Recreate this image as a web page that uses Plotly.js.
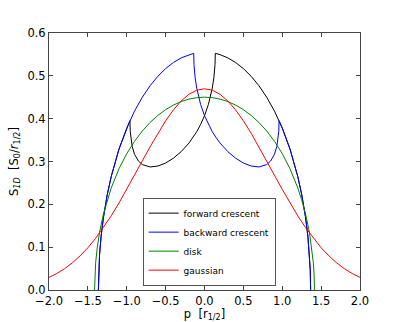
<!DOCTYPE html>
<html><head><meta charset="utf-8">
<script src="https://cdn.plot.ly/plotly-3.0.1.min.js"></script>
<style>html,body{margin:0;padding:0;background:#fff}#chart{width:399px;height:322px}</style>
</head><body><div id="chart"></div>
<script>
// forward crescent
const fwdX = [-1.3649, -1.36, -1.35, -1.33, -1.3, -1.25, -1.2, -1.1, -1.0, -0.959, -0.955, -0.95, -0.93, -0.9, -0.85, -0.8, -0.7, -0.6, -0.5, -0.4, -0.3, -0.2, -0.15, -0.1, -0.05, 0, 0.05, 0.08, 0.1, 0.12, 0.13, 0.135, 0.139, 0.2, 0.3, 0.4, 0.5, 0.6, 0.7, 0.8, 0.9, 1.0, 1.1, 1.2, 1.25, 1.3, 1.33, 1.35, 1.36, 1.3649];
const fwdY = [0, 0.0471, 0.0819, 0.1249, 0.1693, 0.2231, 0.2647, 0.3289, 0.3781, 0.3953, 0.3700, 0.3586, 0.3349, 0.3168, 0.3011, 0.2928, 0.2872, 0.2894, 0.2965, 0.3077, 0.3230, 0.3430, 0.3554, 0.3696, 0.3864, 0.4069, 0.4331, 0.4538, 0.4713, 0.4951, 0.5127, 0.5259, 0.5526, 0.5495, 0.5419, 0.5311, 0.5169, 0.4990, 0.4769, 0.4501, 0.4176, 0.3781, 0.3289, 0.2647, 0.2231, 0.1693, 0.1249, 0.0819, 0.0471, 0];
// backward crescent
const bwdX = [-1.3649, -1.36, -1.35, -1.33, -1.3, -1.25, -1.2, -1.1, -1.0, -0.9, -0.8, -0.7, -0.6, -0.5, -0.4, -0.3, -0.2, -0.139, -0.135, -0.13, -0.12, -0.1, -0.08, -0.05, 0, 0.05, 0.1, 0.15, 0.2, 0.3, 0.4, 0.5, 0.6, 0.7, 0.8, 0.85, 0.9, 0.93, 0.95, 0.955, 0.959, 1.0, 1.1, 1.2, 1.25, 1.3, 1.33, 1.35, 1.36, 1.3649];
const bwdY = [0, 0.0471, 0.0819, 0.1249, 0.1693, 0.2231, 0.2647, 0.3289, 0.3781, 0.4176, 0.4501, 0.4769, 0.4990, 0.5169, 0.5311, 0.5419, 0.5495, 0.5526, 0.5259, 0.5127, 0.4951, 0.4713, 0.4538, 0.4331, 0.4069, 0.3864, 0.3696, 0.3554, 0.3430, 0.3230, 0.3077, 0.2965, 0.2894, 0.2872, 0.2928, 0.3011, 0.3168, 0.3349, 0.3586, 0.3700, 0.3953, 0.3781, 0.3289, 0.2647, 0.2231, 0.1693, 0.1249, 0.0819, 0.0471, 0];
// disk
const diskX = [-1.4142, -1.41, -1.4, -1.38, -1.35, -1.3, -1.25, -1.2, -1.1, -1.0, -0.9, -0.8, -0.7, -0.6, -0.5, -0.4, -0.3, -0.2, -0.1, 0, 0.1, 0.2, 0.3, 0.4, 0.5, 0.6, 0.7, 0.8, 0.9, 1.0, 1.1, 1.2, 1.25, 1.3, 1.35, 1.38, 1.4, 1.41, 1.4142];
const diskY = [0, 0.0347, 0.0637, 0.0984, 0.1341, 0.1772, 0.2105, 0.2382, 0.2829, 0.3183, 0.3472, 0.3712, 0.3911, 0.4076, 0.4211, 0.4318, 0.4399, 0.4456, 0.4490, 0.4502, 0.4490, 0.4456, 0.4399, 0.4318, 0.4211, 0.4076, 0.3911, 0.3712, 0.3472, 0.3183, 0.2829, 0.2382, 0.2105, 0.1772, 0.1341, 0.0984, 0.0637, 0.0347, 0];
// gaussian
const gaussX = [-2.0, -1.9, -1.8, -1.7, -1.6, -1.5, -1.4, -1.3, -1.2, -1.1, -1.0, -0.9, -0.8, -0.7, -0.6, -0.5, -0.4, -0.3, -0.2, -0.1, 0, 0.1, 0.2, 0.3, 0.4, 0.5, 0.6, 0.7, 0.8, 0.9, 1.0, 1.1, 1.2, 1.3, 1.4, 1.5, 1.6, 1.7, 1.8, 1.9, 2.0];
const gaussY = [0.0294, 0.0385, 0.0497, 0.0634, 0.0797, 0.0987, 0.1207, 0.1456, 0.1731, 0.2030, 0.2349, 0.2679, 0.3014, 0.3344, 0.3660, 0.3950, 0.4204, 0.4413, 0.4569, 0.4665, 0.4697, 0.4665, 0.4569, 0.4413, 0.4204, 0.3950, 0.3660, 0.3344, 0.3014, 0.2679, 0.2349, 0.2030, 0.1731, 0.1456, 0.1207, 0.0987, 0.0797, 0.0634, 0.0497, 0.0385, 0.0294];

const names = ['forward crescent', 'backward crescent', 'disk', 'gaussian'];
const colors = ['#000000', '#0000ff', '#008000', '#ff0000'];
const xTicks = [-2.0, -1.5, -1.0, -0.5, 0.0, 0.5, 1.0, 1.5, 2.0];
const yTicks = [0.0, 0.1, 0.2, 0.3, 0.4, 0.5, 0.6];

const series = [[fwdX, fwdY], [bwdX, bwdY], [diskX, diskY], [gaussX, gaussY]];
const traces = series.map((s, i) => ({
  x: s[0], y: s[1], type: 'scatter', mode: 'lines', name: names[i],
  line: {color: colors[i], width: 1}
}));

const font = {family: 'DejaVu Sans, sans-serif', size: 11.5, color: '#000'};
const axisCommon = {
  showline: true, linecolor: '#444', linewidth: 1, mirror: 'ticks',
  ticks: 'inside', ticklen: 4, tickwidth: 1, tickcolor: '#444',
  showgrid: false, zeroline: false, tickformat: '.1f', tickfont: font
};
const layout = {
  width: 399, height: 322,
  margin: {l: 49, r: 39, t: 33, b: 32},
  paper_bgcolor: '#fff', plot_bgcolor: '#fff',
  font: font,
  showlegend: true,
  legend: {
    x: 0.301, xanchor: 'left', y: 0.017, yanchor: 'bottom',
    bgcolor: '#fff', bordercolor: '#555', borderwidth: 1,
    font: {family: 'DejaVu Sans, sans-serif', size: 9, color: '#000'},
    tracegroupgap: 0
  },
  xaxis: Object.assign({}, axisCommon, {
    range: [-2, 2], tickvals: xTicks,
    title: {text: 'p\u00a0\u00a0[r<sub>1/2</sub>]', font: font, standoff: 4}
  }),
  yaxis: Object.assign({}, axisCommon, {
    range: [0, 0.6], tickvals: yTicks,
    title: {text: 'S<sub><i>1D</i></sub>\u00a0\u00a0[S<sub>0</sub>/<i>r</i><sub>1/2</sub>]', font: font, standoff: 6}
  })
};
Plotly.newPlot('chart', traces, layout, {displayModeBar: false, staticPlot: true});
</script>
</body></html>
